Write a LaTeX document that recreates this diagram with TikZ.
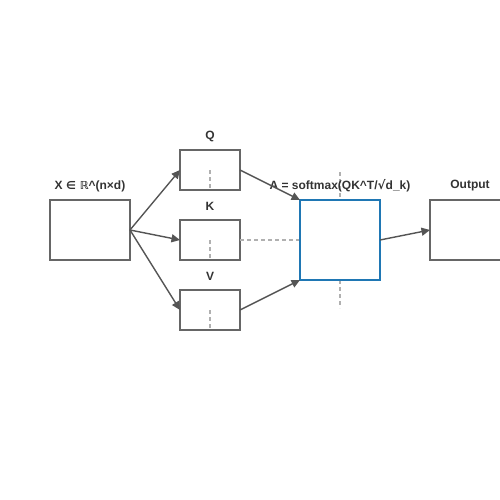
\documentclass[tikz,border=0pt]{standalone}
\usepackage{fontspec}
\setmainfont{Liberation Sans}
\newfontfamily\symfont{DejaVu Sans}
\usetikzlibrary{arrows.meta}
\definecolor{boxgray}{HTML}{666666}
\definecolor{arrgray}{HTML}{555555}
\definecolor{dashgray}{HTML}{B0B0B0}
\definecolor{txt}{HTML}{333333}
\definecolor{blueA}{HTML}{1F77B4}
\begin{document}
\begin{tikzpicture}[x=1pt,y=-1pt,
  blk/.style={draw=boxgray,line width=1.5pt,fill=white,outer sep=0pt},
  ablk/.style={draw=blueA,line width=2pt,fill=white,outer sep=0pt},
  lbl/.style={text=txt,font=\fontsize{12}{14}\selectfont\bfseries,inner sep=0pt},
  conn/.style={draw=arrgray,line width=1.4pt,-{Triangle[length=8.5pt,width=8pt]}},
  guide/.style={draw=dashgray,line width=1.5pt,dash pattern=on 4pt off 3pt}]
\useasboundingbox (0,0) rectangle (500,500);
\clip (0,0) rectangle (500,500);
% boxes
\node[blk,minimum width=80pt,minimum height=60pt,anchor=north west] (X) at (50,200) {};
\node[blk,minimum width=60pt,minimum height=40pt,anchor=north west] (Q) at (180,150) {};
\node[blk,minimum width=60pt,minimum height=40pt,anchor=north west] (K) at (180,220) {};
\node[blk,minimum width=60pt,minimum height=40pt,anchor=north west] (V) at (180,290) {};
\node[blk,minimum width=80pt,minimum height=60pt,anchor=north west] (O) at (430,200) {};
% dashed guides
\coordinate (qg) at (210,170);
\coordinate (kg) at (210,240);
\coordinate (vg) at (210,310);
\coordinate (at) at (340,172);
\coordinate (ab) at (340,308);
\draw[guide] (qg) -- (Q.south);
\draw[guide] (kg) -- (K.south);
\draw[guide] (vg) -- (V.south);
\draw[guide] (K.east) -- (300,240);
\draw[guide] (at) -- (340,200);
\draw[guide] (340,280) -- (ab);
% A box
\node[ablk,minimum width=80pt,minimum height=80pt,anchor=north west] (A) at (300,200) {};
% labels
\node[lbl] (lx) at (90,186) {X {\symfont\fontsize{11}{14}\selectfont ∈ ℝ}\^{}(n×d)};
\node[lbl] (lq) at (210,136) {Q};
\node[lbl] (lk) at (210,206) {K};
\node[lbl] (lv) at (210,276) {V};
\node[lbl] (la) at (340,186) {A = softmax(QK\^{}T/{\symfont √}d\_k)};
\node[lbl] (lo) at (470,186) {Output};
% connectors
\draw[conn] (X.east) -- (Q.west);
\draw[conn] (X.east) -- (K.west);
\draw[conn] (X.east) -- (V.west);
\draw[conn] (Q.east) -- (A.north west);
\draw[conn] (V.east) -- (A.south west);
\draw[conn] (A.east) -- (O.west);
\end{tikzpicture}
\end{document}
